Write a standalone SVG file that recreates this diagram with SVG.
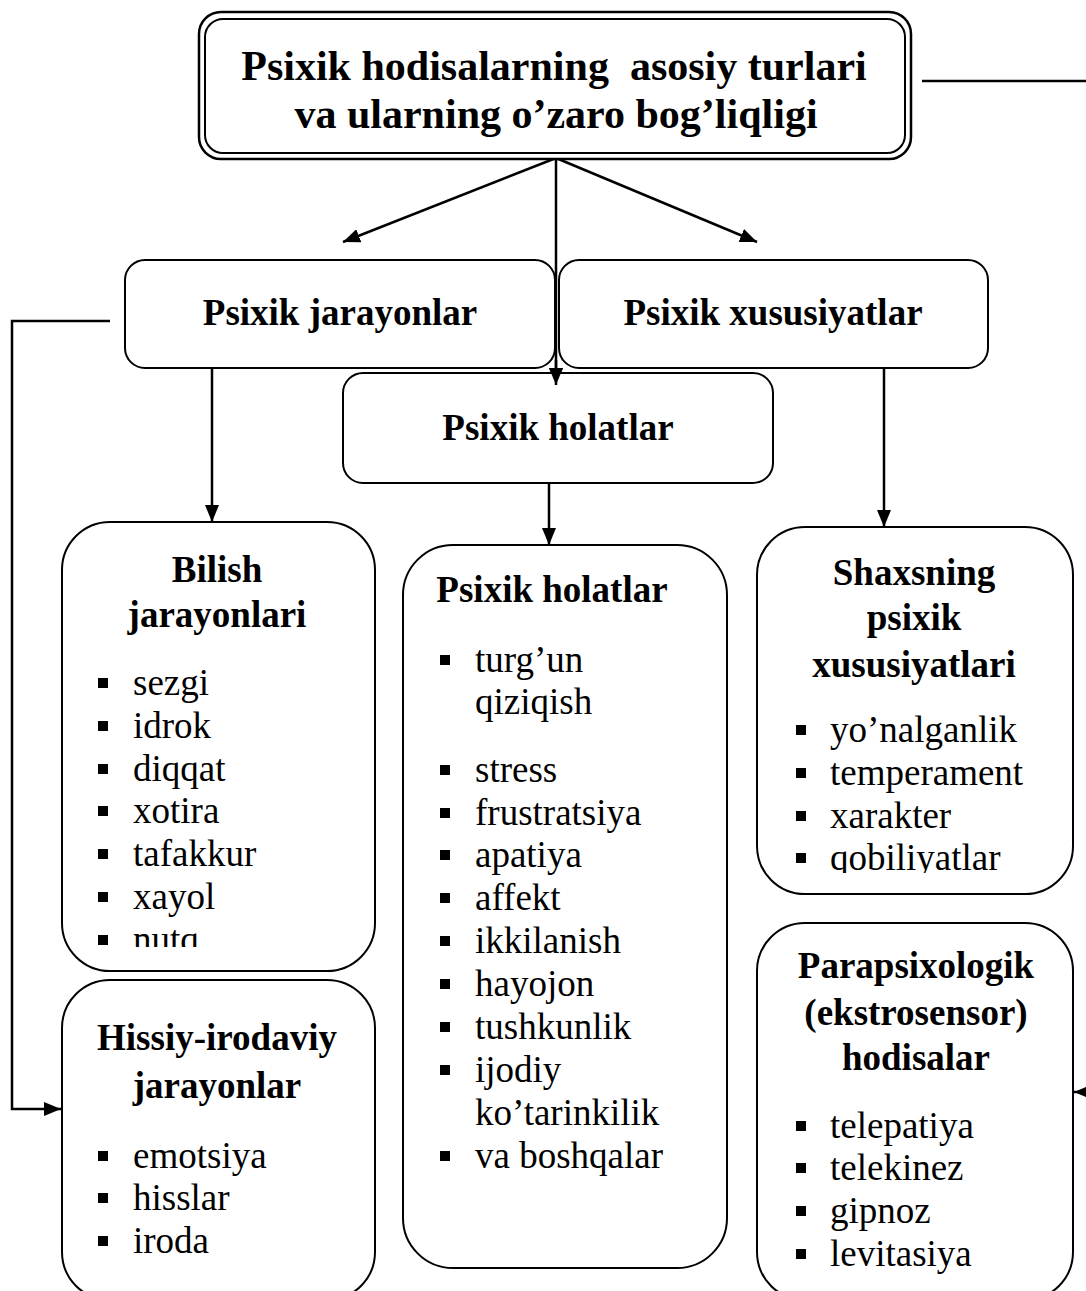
<svg xmlns="http://www.w3.org/2000/svg" width="1086" height="1291" viewBox="0 0 1086 1291">
<style>
.box{fill:#fff;stroke:#000;stroke-width:2}
text{font-family:'Liberation Serif','Times New Roman',serif;fill:#000}
.b{font-weight:bold;font-size:37px;text-anchor:middle}
.h{font-weight:bold;font-size:42px;text-anchor:middle}
.i{font-size:37px}
.c{fill:none;stroke:#000;stroke-width:2.5}
</style>
<defs>
<marker id="ah" markerUnits="userSpaceOnUse" markerWidth="17" markerHeight="14" refX="17" refY="7" orient="auto">
<path d="M0,0 L17,7 L0,14 z" fill="#000"/>
</marker>
<clipPath id="clipB"><rect x="0" y="0" width="1086" height="947"/></clipPath>
<clipPath id="clipS"><rect x="0" y="0" width="1086" height="873"/></clipPath>
</defs>

<g id="connectors">
<path class="c" d="M922,81 L1086,81"/>
<path class="c" d="M556,158 L343,242" marker-end="url(#ah)"/>
<path class="c" d="M556,158 L757,242" marker-end="url(#ah)"/>
<path class="c" d="M556,158 L556,385" marker-end="url(#ah)"/>
<path class="c" d="M212,368 L212,522" marker-end="url(#ah)"/>
<path class="c" d="M549,483 L549,545" marker-end="url(#ah)"/>
<path class="c" d="M884,368 L884,527" marker-end="url(#ah)"/>
<path class="c" d="M110,321 L12,321 L12,1109 L61,1109" marker-end="url(#ah)"/>
<path class="c" d="M1110,1092 L1074,1092" marker-end="url(#ah)"/>
</g>

<g id="title">
<rect x="199" y="12" width="712" height="147" rx="22" fill="#fff" stroke="#000" stroke-width="2.5"/>
<rect x="205" y="19" width="700" height="134" rx="18" fill="none" stroke="#000" stroke-width="2"/>
<text class="h" x="554" y="80" xml:space="preserve">Psixik hodisalarning  asosiy turlari</text>
<text class="h" x="556" y="128">va ularning o’zaro bog’liqligi</text>
</g>

<g id="node-jarayonlar">
<rect class="box" x="125" y="260" width="430" height="108" rx="20"/>
<text class="b" x="340" y="325">Psixik jarayonlar</text>
</g>

<g id="node-xususiyatlar">
<rect class="box" x="559" y="260" width="429" height="108" rx="20"/>
<text class="b" x="773" y="325">Psixik xususiyatlar</text>
</g>

<g id="node-holatlar-top">
<rect class="box" x="343" y="373" width="430" height="110" rx="20"/>
<text class="b" x="558" y="440">Psixik holatlar</text>
</g>
<path class="c" d="M556,360 L556,385" marker-end="url(#ah)"/>

<g id="node-bilish">
<rect class="box" x="62" y="522" width="313" height="449" rx="48"/>
<text class="b" x="217" y="582">Bilish</text>
<text class="b" x="217" y="627">jarayonlari</text>
<g clip-path="url(#clipB)">
<rect x="98" y="678" width="10" height="10"/><text class="i" x="133" y="695">sezgi</text>
<rect x="98" y="721" width="10" height="10"/><text class="i" x="133" y="738">idrok</text>
<rect x="98" y="764" width="10" height="10"/><text class="i" x="133" y="781">diqqat</text>
<rect x="98" y="806" width="10" height="10"/><text class="i" x="133" y="823">xotira</text>
<rect x="98" y="849" width="10" height="10"/><text class="i" x="133" y="866">tafakkur</text>
<rect x="98" y="892" width="10" height="10"/><text class="i" x="133" y="909">xayol</text>
<rect x="98" y="935" width="10" height="10"/><text class="i" x="133" y="952">nutq</text>
</g>
</g>

<g id="node-hissiy">
<rect class="box" x="62" y="980" width="313" height="320" rx="48"/>
<text class="b" x="217" y="1050">Hissiy-irodaviy</text>
<text class="b" x="217" y="1098">jarayonlar</text>
<rect x="98" y="1151" width="10" height="10"/><text class="i" x="133" y="1168">emotsiya</text>
<rect x="98" y="1193" width="10" height="10"/><text class="i" x="133" y="1210">hisslar</text>
<rect x="98" y="1236" width="10" height="10"/><text class="i" x="133" y="1253">iroda</text>
</g>

<g id="node-holatlar">
<rect class="box" x="403" y="545" width="324" height="723" rx="50"/>
<text class="b" x="552" y="602">Psixik holatlar</text>
<rect x="440" y="655" width="10" height="10"/><text class="i" x="475" y="672">turg’un</text>
<text class="i" x="475" y="714">qiziqish</text>
<rect x="440" y="765" width="10" height="10"/><text class="i" x="475" y="782">stress</text>
<rect x="440" y="808" width="10" height="10"/><text class="i" x="475" y="825">frustratsiya</text>
<rect x="440" y="850" width="10" height="10"/><text class="i" x="475" y="867">apatiya</text>
<rect x="440" y="893" width="10" height="10"/><text class="i" x="475" y="910">affekt</text>
<rect x="440" y="936" width="10" height="10"/><text class="i" x="475" y="953">ikkilanish</text>
<rect x="440" y="979" width="10" height="10"/><text class="i" x="475" y="996">hayojon</text>
<rect x="440" y="1022" width="10" height="10"/><text class="i" x="475" y="1039">tushkunlik</text>
<rect x="440" y="1065" width="10" height="10"/><text class="i" x="475" y="1082">ijodiy</text>
<text class="i" x="475" y="1125">ko’tarinkilik</text>
<rect x="440" y="1151" width="10" height="10"/><text class="i" x="475" y="1168">va boshqalar</text>
</g>

<g id="node-shaxs">
<rect class="box" x="757" y="527" width="316" height="367" rx="48"/>
<text class="b" x="914" y="585">Shaxsning</text>
<text class="b" x="914" y="630">psixik</text>
<text class="b" x="914" y="677">xususiyatlari</text>
<g clip-path="url(#clipS)">
<rect x="796" y="725" width="10" height="10"/><text class="i" x="830" y="742">yo’nalganlik</text>
<rect x="796" y="768" width="10" height="10"/><text class="i" x="830" y="785">temperament</text>
<rect x="796" y="811" width="10" height="10"/><text class="i" x="830" y="828">xarakter</text>
<rect x="796" y="853" width="10" height="10"/><text class="i" x="830" y="870">qobiliyatlar</text>
</g>
</g>

<g id="node-parapsix">
<rect class="box" x="757" y="923" width="316" height="377" rx="48"/>
<text class="b" x="916" y="978">Parapsixologik</text>
<text class="b" x="916" y="1025">(ekstrosensor)</text>
<text class="b" x="916" y="1070">hodisalar</text>
<rect x="796" y="1121" width="10" height="10"/><text class="i" x="830" y="1138">telepatiya</text>
<rect x="796" y="1163" width="10" height="10"/><text class="i" x="830" y="1180">telekinez</text>
<rect x="796" y="1206" width="10" height="10"/><text class="i" x="830" y="1223">gipnoz</text>
<rect x="796" y="1249" width="10" height="10"/><text class="i" x="830" y="1266">levitasiya</text>
</g>
</svg>
